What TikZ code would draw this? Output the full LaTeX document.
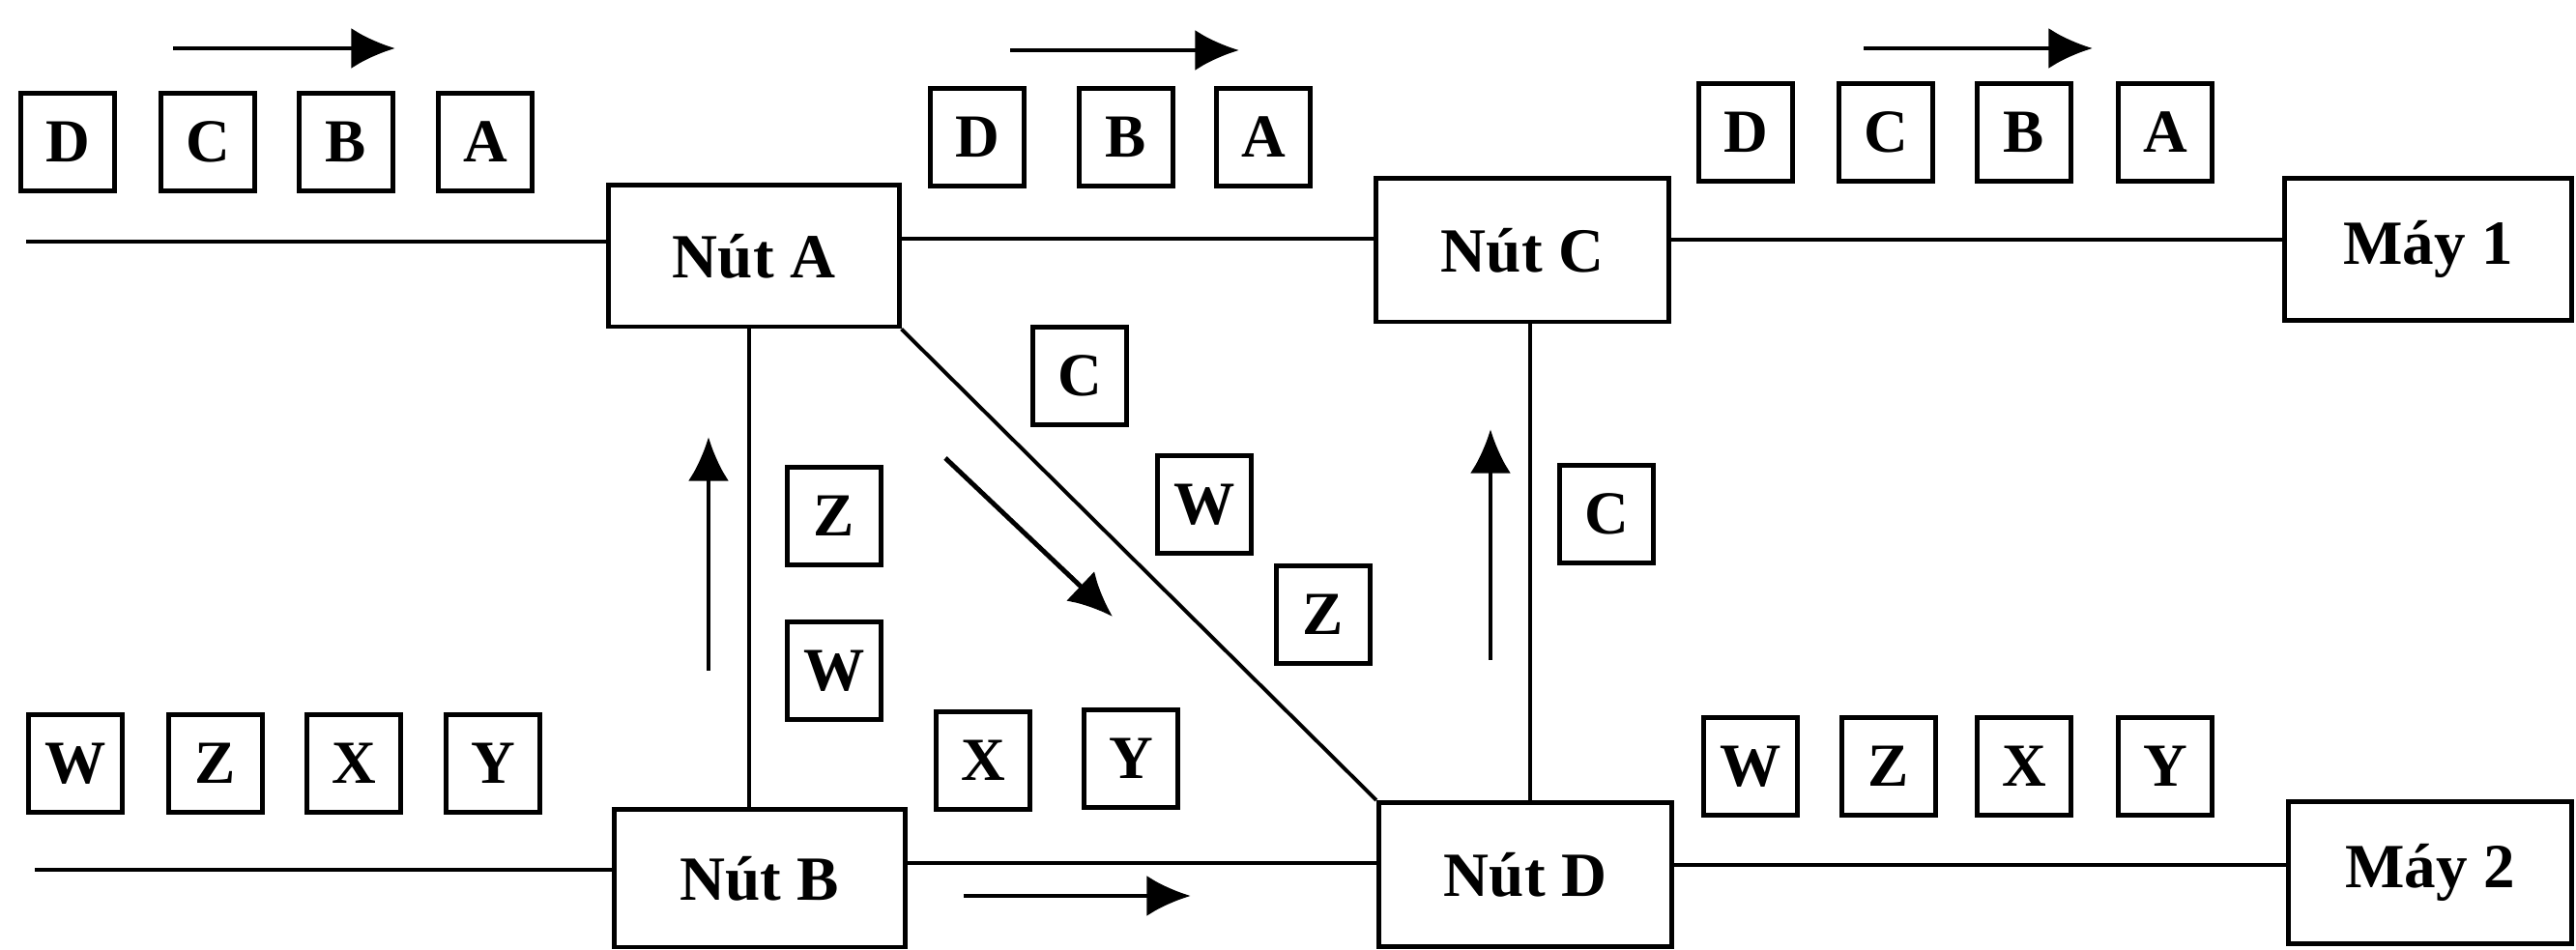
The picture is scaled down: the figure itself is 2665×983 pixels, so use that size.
\documentclass[tikz,border=0pt]{standalone}
\usepackage{fontspec}
\setmainfont{Liberation Serif}
\usetikzlibrary{arrows.meta}
\begin{document}
\begin{tikzpicture}[x=0.01cm,y=-0.01cm,
  nut/.style={draw,line width=1.4pt,inner sep=0pt,font=\fontsize{18.5}{22}\selectfont\bfseries},
  pk/.style={draw,line width=1.3pt,minimum width=0.97cm,minimum height=1.01cm,inner sep=0pt,font=\fontsize{18}{22}\selectfont\bfseries},
  link/.style={line width=1.1pt},
  flow/.style={line width=1.4pt,-{Latex[length=13pt,width=12pt]}}]
\useasboundingbox (0,0) rectangle (2665,983);
% main nodes
\node[nut,minimum width=3cm,minimum height=1.46cm] (nA) at (780,265) {Nút A};
\node[nut,minimum width=3.03cm,minimum height=1.48cm] (nC) at (1575,259) {Nút C};
\node[nut,minimum width=3cm,minimum height=1.42cm] (nB) at (786,909) {Nút B};
\node[nut,minimum width=3.03cm,minimum height=1.49cm] (nD) at (1578,905) {Nút D};
\node[nut,minimum width=2.96cm,minimum height=1.47cm] (m1) at (2512,258) {Máy 1};
\node[nut,minimum width=2.93cm,minimum height=1.47cm] (m2) at (2514,903) {Máy 2};
% helper coordinates
\coordinate (inA) at (27,250);
\coordinate (inB) at (36,900);
\coordinate (yAC) at (0,247);
\coordinate (yC1) at (0,248);
\coordinate (yBD) at (0,893);
\coordinate (yD2) at (0,895);
\coordinate (xAB) at (775,0);
\coordinate (xCD) at (1583,0);
% connectors
\draw[link] (inA) -- (nA.west |- inA);
\draw[link] (nA.east |- yAC) -- (nC.west |- yAC);
\draw[link] (nC.east |- yC1) -- (m1.west |- yC1);
\draw[link] (inB) -- (nB.west |- inB);
\draw[link] (nB.east |- yBD) -- (nD.west |- yBD);
\draw[link] (nD.east |- yD2) -- (m2.west |- yD2);
\draw[link] (nA.south -| xAB) -- (nB.north -| xAB);
\draw[link] (nC.south -| xCD) -- (nD.north -| xCD);
\draw[link] (nA.south east) -- (nD.north west);
% packets top-left
\node[pk] (t1) at (70,147) {D};
\node[pk] (t2) at (215,147) {C};
\node[pk] (t3) at (358,147) {B};
\node[pk] (t4) at (502,147) {A};
% packets top-middle
\node[pk] (u1) at (1011,142) {D};
\node[pk] (u2) at (1165,142) {B};
\node[pk] (u3) at (1307,142) {A};
% packets top-right
\node[pk] (v1) at (1806,137) {D};
\node[pk] (v2) at (1951,137) {C};
\node[pk] (v3) at (2094,137) {B};
\node[pk] (v4) at (2240,137) {A};
% packets bottom-left
\node[pk] (b1) at (78,790) {W};
\node[pk] (b2) at (223,790) {Z};
\node[pk] (b3) at (366,790) {X};
\node[pk] (b4) at (510,790) {Y};
% packets bottom-middle
\node[pk] (c1) at (1017,787) {X};
\node[pk] (c2) at (1170,785) {Y};
% packets bottom-right
\node[pk] (d1) at (1811,793) {W};
\node[pk] (d2) at (1954,793) {Z};
\node[pk] (d3) at (2094,793) {X};
\node[pk] (d4) at (2240,793) {Y};
% packets on A-B link
\node[pk] (e1) at (863,534) {Z};
\node[pk] (e2) at (863,694) {W};
% packets on diagonal
\node[pk] (f1) at (1117,389) {C};
\node[pk] (f2) at (1246,522) {W};
\node[pk] (f3) at (1369,636) {Z};
% packet on C-D link
\node[pk] (g1) at (1662,532) {C};
% direction arrows
\coordinate (a1s) at (179,50);   \coordinate (a1e) at (409,50);
\coordinate (a2s) at (1045,52);  \coordinate (a2e) at (1282,52);
\coordinate (a3s) at (1928,50);  \coordinate (a3e) at (2165,50);
\coordinate (a4s) at (733,694);  \coordinate (a4e) at (733,452);
\coordinate (a5s) at (978,474);  \coordinate (a5e) at (1151,638);
\coordinate (a6s) at (997,927);  \coordinate (a6e) at (1232,927);
\coordinate (a7s) at (1542,683); \coordinate (a7e) at (1542,444);
\draw[flow] (a1s) -- (a1e);
\draw[flow] (a2s) -- (a2e);
\draw[flow] (a3s) -- (a3e);
\draw[flow] (a4s) -- (a4e);
\draw[flow] (a5s) -- (a5e);
\draw[flow] (a6s) -- (a6e);
\draw[flow] (a7s) -- (a7e);
\end{tikzpicture}
\end{document}
